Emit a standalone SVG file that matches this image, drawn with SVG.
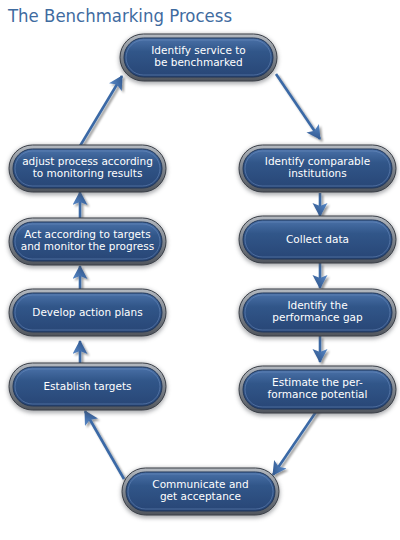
<svg xmlns="http://www.w3.org/2000/svg" width="400" height="540" viewBox="0 0 400 540">
<style>
  .title{font-family:"DejaVu Sans","Liberation Sans",sans-serif;font-size:17.5px;fill:#3f6b9f}
  .lbl{font-family:"DejaVu Sans","Liberation Sans",sans-serif;font-size:10.5px;fill:#ffffff;text-anchor:middle}
  .rim{fill:url(#rimG);stroke:#3a3f47;stroke-width:1}
  .body{fill:url(#bodyG);stroke:#1f3558;stroke-width:1}
  .hl{fill:none;stroke:#6f90c2;stroke-width:1;opacity:0.5}
  .sh{fill:#55595f;opacity:0.5;filter:url(#blur)}
  .con{stroke:#3a69a6;stroke-width:2.6;fill:none;marker-end:url(#ah)}
</style>
<defs>
  <linearGradient id="rimG" x1="0" y1="0" x2="0" y2="1">
    <stop offset="0" stop-color="#b4b9c0"/>
    <stop offset="0.5" stop-color="#80868e"/>
    <stop offset="1" stop-color="#4f545c"/>
  </linearGradient>
  <linearGradient id="bodyG" x1="0" y1="0" x2="0" y2="1">
    <stop offset="0" stop-color="#4a71a8"/>
    <stop offset="0.35" stop-color="#315689"/>
    <stop offset="1" stop-color="#284676"/>
  </linearGradient>
  <linearGradient id="headG" x1="0" y1="0" x2="1" y2="1">
    <stop offset="0" stop-color="#5a8ac8"/>
    <stop offset="1" stop-color="#23487e"/>
  </linearGradient>
  <filter id="blur" x="-20%" y="-40%" width="140%" height="180%">
    <feGaussianBlur stdDeviation="2.2"/>
  </filter>
  <filter id="dsh" x="-50%" y="-50%" width="200%" height="200%">
    <feDropShadow dx="2" dy="2" stdDeviation="1.2" flood-color="#000" flood-opacity="0.4"/>
  </filter>
  <marker id="ah" markerUnits="userSpaceOnUse" markerWidth="16" markerHeight="16" refX="13" refY="7.5" orient="auto">
    <path d="M0,0 L14,7.5 L0,15 L3,7.5 z" fill="url(#headG)"/>
  </marker>
  <g id="pill">
    <rect class="sh" x="-1" y="0" width="159" height="50" rx="25"/>
    <rect class="rim" x="0" y="0" width="157" height="47" rx="23.5"/>
    <rect class="body" x="4" y="4" width="149" height="39" rx="19.5"/>
    <rect class="hl" x="6" y="6" width="145" height="35" rx="17.5"/>
  </g>
</defs>

<text class="title" x="8" y="22" textLength="224" lengthAdjust="spacingAndGlyphs">The Benchmarking Process</text>

<g id="connectors" filter="url(#dsh)">
  <line class="con" x1="276" y1="74" x2="320" y2="139"/>
  <line class="con" x1="320" y1="193" x2="320" y2="216"/>
  <line class="con" x1="320" y1="263" x2="320" y2="288"/>
  <line class="con" x1="320" y1="336" x2="320" y2="362"/>
  <line class="con" x1="320" y1="406" x2="273" y2="475"/>
  <line class="con" x1="124" y1="479" x2="85" y2="411"/>
  <line class="con" x1="80" y1="363" x2="80" y2="341"/>
  <line class="con" x1="80" y1="290" x2="80" y2="266"/>
  <line class="con" x1="80" y1="218" x2="80" y2="192"/>
  <line class="con" x1="80" y1="146" x2="122" y2="76"/>
</g>

<g id="n-identify-service" transform="translate(120,34)">
  <use href="#pill"/>
  <text class="lbl" x="78.5" y="19.5">Identify service to</text>
  <text class="lbl" x="78.5" y="32">be benchmarked</text>
</g>
<g id="n-comparable" transform="translate(239,145)">
  <use href="#pill"/>
  <text class="lbl" x="78.5" y="19.5">Identify comparable</text>
  <text class="lbl" x="78.5" y="32">institutions</text>
</g>
<g id="n-collect" transform="translate(239,216)">
  <use href="#pill"/>
  <text class="lbl" x="78.5" y="27">Collect data</text>
</g>
<g id="n-gap" transform="translate(239,289)">
  <use href="#pill"/>
  <text class="lbl" x="78.5" y="19.5">Identify the</text>
  <text class="lbl" x="78.5" y="32">performance gap</text>
</g>
<g id="n-potential" transform="translate(239,366)">
  <use href="#pill"/>
  <text class="lbl" x="78.5" y="19.5">Estimate the per-</text>
  <text class="lbl" x="78.5" y="32">formance potential</text>
</g>
<g id="n-communicate" transform="translate(122,468)">
  <use href="#pill"/>
  <text class="lbl" x="78.5" y="19.5">Communicate and</text>
  <text class="lbl" x="78.5" y="32">get acceptance</text>
</g>
<g id="n-targets" transform="translate(9,363)">
  <use href="#pill"/>
  <text class="lbl" x="78.5" y="27">Establish targets</text>
</g>
<g id="n-plans" transform="translate(9,289)">
  <use href="#pill"/>
  <text class="lbl" x="78.5" y="27">Develop action plans</text>
</g>
<g id="n-act" transform="translate(9,218)">
  <use href="#pill"/>
  <text class="lbl" x="78.5" y="19.5">Act according to targets</text>
  <text class="lbl" x="78.5" y="32">and monitor the progress</text>
</g>
<g id="n-adjust" transform="translate(9,145)">
  <use href="#pill"/>
  <text class="lbl" x="78.5" y="19.5">adjust process according</text>
  <text class="lbl" x="78.5" y="32">to monitoring results</text>
</g>
</svg>
